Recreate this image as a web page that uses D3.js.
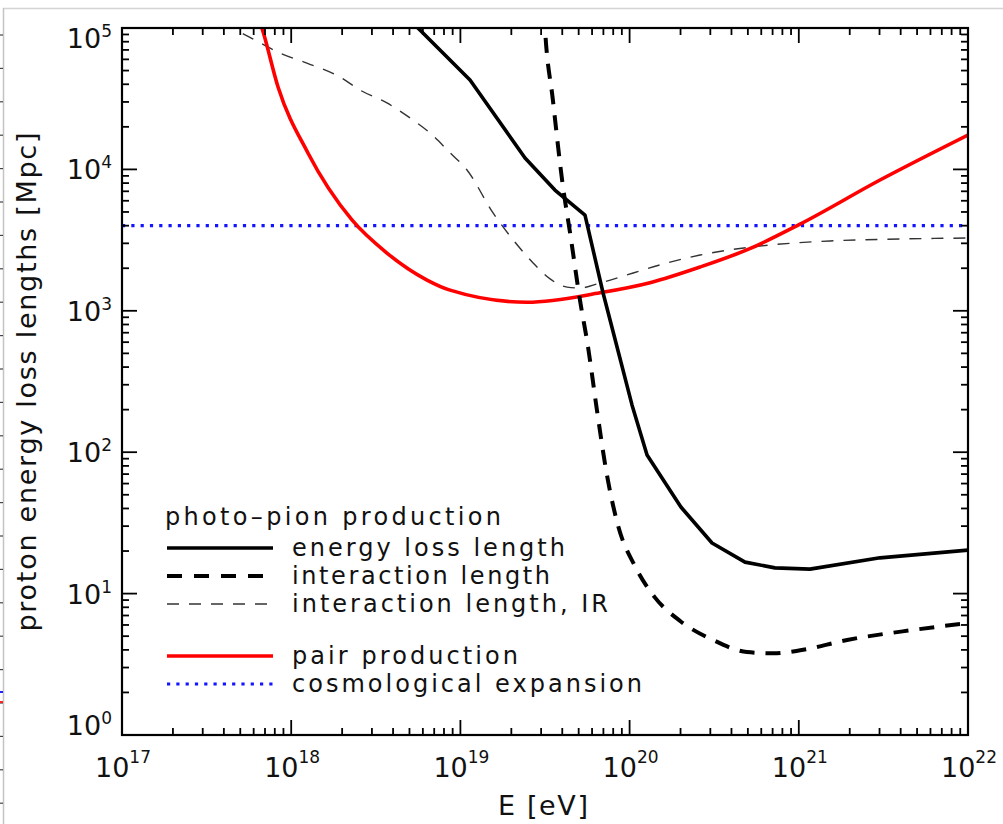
<!DOCTYPE html>
<html><head><meta charset="utf-8">
<script src="https://cdn.jsdelivr.net/npm/d3@7/dist/d3.min.js"></script>
<style>
html,body{margin:0;padding:0;background:#fff;}
svg{display:block;}
text{font-family:"DejaVu Sans",sans-serif;fill:#111;}
</style></head>
<body>
<svg id="chart" width="1003" height="824"></svg>
<script>
// ---- data ----
const xDecades = [17, 18, 19, 20, 21, 22];   // tick labels 10^n on E axis
const yDecades = [0, 1, 2, 3, 4, 5];         // tick labels 10^n on length axis
const minorMult = [2, 3, 4, 5, 6, 7, 8, 9];

// pair production (red)
const pairE = [6.2e17, 6.71e17, 8.36e17, 1.256e18, 2.286e18, 3.68e18, 6.35e18, 8.69e18, 2.48e19, 6.68e19, 1.32e20, 2.61e20, 5.13e20, 1.016e21, 3.02e21, 1e22];
const pairL = [1.3e5, 1.0e5, 3.83e4, 1.306e4, 4.39e3, 2.56e3, 1.65e3, 1.40e3, 1.15e3, 1.34e3, 1.58e3, 2.04e3, 2.75e3, 4.1e3, 8.41e3, 1.75e4];

// photo-pion energy loss length (black solid, polyline)
const lossE = [5.2e18, 5.61e18, 1.14e19, 2.41e19, 3.62e19, 5.45e19, 6.97e19, 8.43e19, 1.033e20, 1.268e20, 2.01e20, 3.07e20, 4.81e20, 7.23e20, 1.164e21, 3.02e21, 1e22];
const lossL = [1.1e5, 1.0e5, 4.29e4, 1.205e4, 7.14e3, 4.75e3, 1336, 555, 216, 95.5, 41, 22.8, 16.7, 15.2, 14.9, 17.9, 20.3];

// photo-pion interaction length (black thick dashed)
const interE = [3.12e19, 3.16e19, 3.52e19, 4.04e19, 4.45e19, 5.09e19, 5.68e19, 6.41e19, 7.26e19, 8.53e19, 1.08e20, 1.41e20, 1.99e20, 3.11e20, 4.94e20, 7.05e20, 1.02e21, 1.93e21, 4.73e21, 1e22];
const interL = [1.3e5, 1.0e5, 3.10e4, 7.52e3, 3.55e3, 1.19e3, 555, 199, 74.8, 30.5, 15.5, 9.4, 6.4, 4.7, 3.86, 3.78, 3.97, 4.70, 5.53, 6.19];

// photo-pion interaction length, IR (thin dashed)
const irE = [4.0e17, 4.53e17, 6.11e17, 8.59e17, 1.239e18, 1.94e18, 2.55e18, 3.68e18, 5.04e18, 6.61e18, 8.69e18, 1.094e19, 1.56e19, 2.05e19, 2.69e19, 3.39e19, 4.27e19, 5.09e19, 6.68e19, 1.05e20, 1.66e20, 2.61e20, 5.90e20, 1.53e21, 3.96e21, 1e22];
const irL = [1.1e5, 1.0e5, 8.22e4, 6.65e4, 5.65e4, 4.50e4, 3.64e4, 2.95e4, 2.31e4, 1.81e4, 1.31e4, 9.91e3, 4.92e3, 3.17e3, 2.18e3, 1.68e3, 1.47e3, 1.45e3, 1.57e3, 1.85e3, 2.18e3, 2.48e3, 2.87e3, 3.12e3, 3.22e3, 3.27e3];

// cosmological expansion (blue dotted)
const cosmoE = [1e17, 1e22];
const cosmoL = [4000, 4000];

const legendTitle = "photo–pion production";
const legendLabels = ["energy loss length", "interaction length", "interaction length, IR", "pair production", "cosmological expansion"];
const xTitle = "E [eV]";
const yTitle = "proton energy loss lengths [Mpc]";

// ---- layout ----
const L = 122, R = 968, T = 28, B = 735;
const svg = d3.select("#chart");
const x = d3.scaleLog().domain([1e17, 1e22]).range([L, R]);
const y = d3.scaleLog().domain([1, 1e5]).range([B, T]);

// screenshot frame decorations
svg.append("line").attr("x1", 3).attr("x2", 1003).attr("y1", 8.5).attr("y2", 8.5).attr("stroke", "#d4d4d4").attr("stroke-width", 1.5);
svg.append("line").attr("x1", 3.5).attr("x2", 3.5).attr("y1", 8).attr("y2", 824).attr("stroke", "#c4c4c4").attr("stroke-width", 1.5);
svg.append("g").selectAll("line").data(d3.range(24)).join("line")
  .attr("x1", 0).attr("x2", 3).attr("y1", d => 35 + d * 33.4).attr("y2", d => 35 + d * 33.4)
  .attr("stroke", "#444").attr("stroke-width", 1.2);
svg.append("line").attr("x1", 0).attr("x2", 3).attr("y1", 692).attr("y2", 692).attr("stroke", "#2222ff").attr("stroke-width", 2);
svg.append("line").attr("x1", 0).attr("x2", 3).attr("y1", 702).attr("y2", 702).attr("stroke", "#ff2222").attr("stroke-width", 2);

svg.append("defs").append("clipPath").attr("id", "clip")
  .append("rect").attr("x", L).attr("y", T).attr("width", R - L).attr("height", B - T);

const plot = svg.append("g").attr("clip-path", "url(#clip)");
const line = (xs, ys, curve) => d3.line().x((d, i) => x(xs[i])).y((d, i) => y(ys[i])).curve(curve)(xs);

plot.append("path").attr("d", line(cosmoE, cosmoL, d3.curveLinear))
  .attr("fill", "none").attr("stroke", "#1414ff").attr("stroke-width", 3.2).attr("stroke-dasharray", "3.2,6.1");
plot.append("path").attr("d", line(irE, irL, d3.curveMonotoneX))
  .attr("fill", "none").attr("stroke", "#333").attr("stroke-width", 1.4).attr("stroke-dasharray", "12,10");
plot.append("path").attr("d", line(pairE, pairL, d3.curveMonotoneX))
  .attr("fill", "none").attr("stroke", "#ff0000").attr("stroke-width", 3.6);
plot.append("path").attr("d", line(lossE, lossL, d3.curveLinear))
  .attr("fill", "none").attr("stroke", "#000").attr("stroke-width", 3.6).attr("stroke-linejoin", "round");
plot.append("path").attr("d", line(interE, interL, d3.curveMonotoneX))
  .attr("fill", "none").attr("stroke", "#000").attr("stroke-width", 4).attr("stroke-dasharray", "15,11");

// ---- axes box and ticks ----
const axes = svg.append("g").attr("stroke", "#000").attr("stroke-width", 1.8);
const xMinor = [], yMinor = [];
xDecades.slice(0, -1).forEach(d => minorMult.forEach(m => xMinor.push(m * Math.pow(10, d))));
yDecades.slice(0, -1).forEach(d => minorMult.forEach(m => yMinor.push(m * Math.pow(10, d))));
const xMajor = xDecades.map(d => Math.pow(10, d));
const yMajor = yDecades.map(d => Math.pow(10, d));
const majLen = 15, minLen = 7;
[[B, -1], [T, 1]].forEach(([yy, s]) => {
  axes.append("g").selectAll("line").data(xMajor).join("line")
    .attr("x1", d => x(d)).attr("x2", d => x(d)).attr("y1", yy).attr("y2", yy + s * majLen);
  axes.append("g").selectAll("line").data(xMinor).join("line")
    .attr("x1", d => x(d)).attr("x2", d => x(d)).attr("y1", yy).attr("y2", yy + s * minLen);
});
[[L, 1], [R, -1]].forEach(([xx, s]) => {
  axes.append("g").selectAll("line").data(yMajor).join("line")
    .attr("y1", d => y(d)).attr("y2", d => y(d)).attr("x1", xx).attr("x2", xx + s * majLen);
  axes.append("g").selectAll("line").data(yMinor).join("line")
    .attr("y1", d => y(d)).attr("y2", d => y(d)).attr("x1", xx).attr("x2", xx + s * minLen);
});
svg.append("rect").attr("x", L).attr("y", T).attr("width", R - L).attr("height", B - T)
  .attr("fill", "none").attr("stroke", "#000").attr("stroke-width", 2.2);

// tick labels
xDecades.forEach(d => {
  const t = svg.append("text").attr("x", x(Math.pow(10, d)) + 1).attr("y", 777)
    .attr("text-anchor", "middle").attr("font-size", 27);
  t.append("tspan").text("10");
  t.append("tspan").attr("dy", -14).attr("font-size", 17).text(String(d));
});
yDecades.forEach(d => {
  const base = Math.min(Math.max(y(Math.pow(10, d)) + 10, 48), 735);
  const t = svg.append("text").attr("x", 112).attr("y", base)
    .attr("text-anchor", "end").attr("font-size", 27);
  t.append("tspan").text("10");
  t.append("tspan").attr("dy", -11).attr("font-size", 17).text(String(d));
});

// axis titles
svg.append("text").attr("x", 543).attr("y", 815).attr("text-anchor", "middle")
  .attr("font-size", 27).attr("textLength", 90).attr("lengthAdjust", "spacing").text(xTitle);
svg.append("text").attr("transform", "translate(36,382) rotate(-90)").attr("text-anchor", "middle")
  .attr("font-size", 27).attr("textLength", 499).attr("lengthAdjust", "spacing").text(yTitle);

// ---- legend ----
const lg = svg.append("g");
lg.append("text").attr("x", 165).attr("y", 525).attr("font-size", 24)
  .attr("textLength", 336).attr("lengthAdjust", "spacing").text(legendTitle);
const rowsY = [548, 576, 604, 656, 684];
const styles = [
  {stroke: "#000", w: 3.6, dash: null},
  {stroke: "#000", w: 4, dash: "15,12"},
  {stroke: "#333", w: 1.4, dash: "12,10"},
  {stroke: "#ff0000", w: 3.6, dash: null},
  {stroke: "#1414ff", w: 3.2, dash: "3.2,6.1"}
];
const widths = [273, 258, 316, 226, 350];
legendLabels.forEach((lab, i) => {
  const s = styles[i];
  const ln = lg.append("line").attr("x1", 167).attr("x2", 273).attr("y1", rowsY[i]).attr("y2", rowsY[i])
    .attr("stroke", s.stroke).attr("stroke-width", s.w);
  if (s.dash) ln.attr("stroke-dasharray", s.dash);
  lg.append("text").attr("x", 292).attr("y", rowsY[i] + 8).attr("font-size", 24)
    .attr("textLength", widths[i]).attr("lengthAdjust", "spacing").text(lab);
});
</script>
</body></html>
